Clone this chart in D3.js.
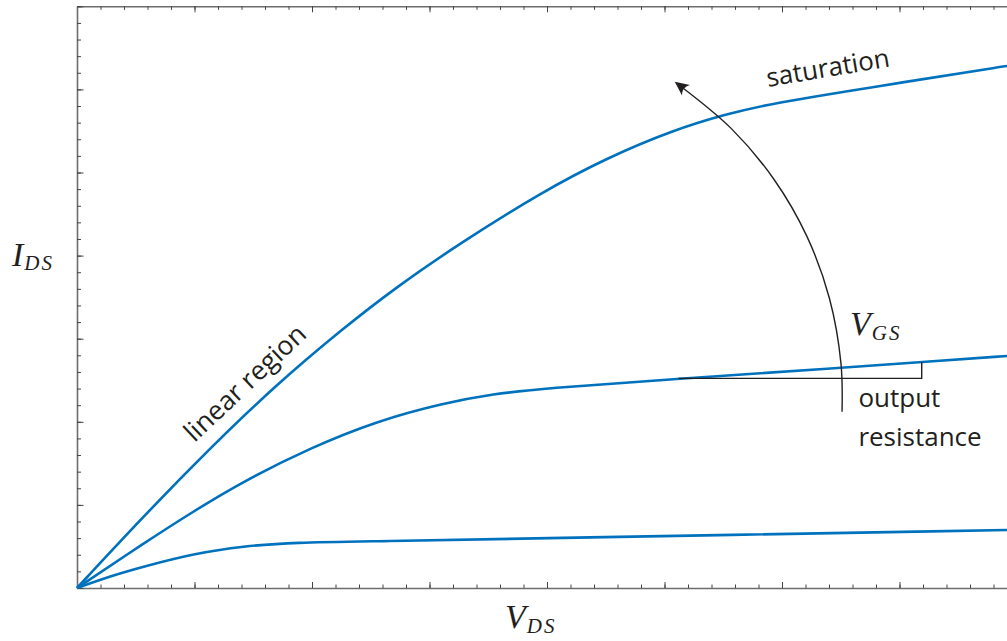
<!DOCTYPE html>
<html>
<head>
<meta charset="utf-8">
<script src="https://cdn.jsdelivr.net/npm/d3@7"></script>
<style>
  html, body { margin: 0; padding: 0; background: #fff; overflow: hidden; }
  svg { display: block; }
  .lbl { font-family: "Open Sans", sans-serif; fill: #231f20; }
  .math { font-family: "Liberation Serif", serif; font-style: italic; fill: #231f20; }
</style>
</head>
<body>
<svg id="chart" width="1007" height="641"></svg>
<script>
// ---------- data (V_DS and I_DS in major-tick units) ----------
const vdsHigh = [0, 0.568, 1.134, 1.702, 2.270, 2.695, 3.262, 3.957, 4.508, 5.075, 5.529, 5.926, 6.777, 7.912, 8.0];
const idsHigh = [0, 0.866, 1.685, 2.455, 3.129, 3.598, 4.152, 4.765, 5.174, 5.511, 5.704, 5.836, 6.029, 6.282, 6.298];

const vdsMid = [0, 0.568, 0.993, 1.419, 1.986, 2.553, 3.121, 3.546, 3.957, 5.132, 6.494, 7.189, 7.912, 8.0];
const idsMid = [0, 0.538, 0.925, 1.286, 1.687, 2.010, 2.226, 2.335, 2.401, 2.521, 2.647, 2.720, 2.792, 2.800];

const vdsLow = [0, 0.283, 0.568, 0.993, 1.419, 1.844, 2.553, 3.940, 7.912, 8.0];
const idsLow = [0, 0.144, 0.259, 0.415, 0.505, 0.548, 0.562, 0.598, 0.698, 0.700];

// V_GS arrow (annotation path)
const arrowV = [6.511, 6.502, 6.404, 6.212, 5.931, 5.569, 5.101];
const arrowI = [2.120, 2.700, 3.484, 4.231, 4.919, 5.528, 6.077];

// output resistance bracket
const bracketV = [5.119, 7.189, 7.189];
const bracketI = [2.523, 2.523, 2.720];

const xMajorTicks = d3.range(0, 9);
const xMinorTicks = d3.range(0, 41).map(i => i * 0.2);
const yMajorTicks = d3.range(0, 8);
const yMinorTicks = d3.range(0, 36).map(i => i * 0.2);

// ---------- layout ----------
const svg = d3.select("#chart");
const plotLeft = 77, plotBottom = 588, plotTop = 6.3, unitX = 117.5;
const x = d3.scaleLinear().domain([0, 8]).range([plotLeft, plotLeft + 8 * unitX]);
const y = d3.scaleLinear().domain([0, 7]).range([plotBottom, plotTop]);

const blue = "#0072bd";
const axisColor = "#6d6d6d";
const ink = "#231f20";

// axes
function styleAxis(g) {
  g.selectAll(".domain").attr("stroke", axisColor).attr("stroke-width", 1.6);
  g.selectAll(".tick line").attr("stroke", "#444").attr("stroke-width", 1);
  g.selectAll(".tick text").remove();
}
svg.append("g").attr("transform", `translate(0,${plotBottom})`)
  .call(d3.axisBottom(x).tickValues(xMinorTicks).tickSizeInner(-3.5).tickSizeOuter(0)).call(styleAxis);
svg.append("g").attr("transform", `translate(0,${plotBottom})`)
  .call(d3.axisBottom(x).tickValues(xMajorTicks).tickSizeInner(-6).tickSizeOuter(0))
  .call(g => g.select(".domain").remove()).call(styleAxis);
svg.append("g").attr("transform", `translate(0,${plotTop})`)
  .call(d3.axisTop(x).tickValues(xMinorTicks).tickSizeInner(-3.5).tickSizeOuter(0)).call(styleAxis);
svg.append("g").attr("transform", `translate(0,${plotTop})`)
  .call(d3.axisTop(x).tickValues(xMajorTicks).tickSizeInner(-6).tickSizeOuter(0))
  .call(g => g.select(".domain").remove()).call(styleAxis);
svg.append("g").attr("transform", `translate(${plotLeft},0)`)
  .call(d3.axisLeft(y).tickValues(yMinorTicks).tickSizeInner(-4).tickSizeOuter(0)).call(styleAxis);
svg.append("g").attr("transform", `translate(${plotLeft},0)`)
  .call(d3.axisLeft(y).tickValues(yMajorTicks).tickSizeInner(-6.5).tickSizeOuter(0))
  .call(g => g.select(".domain").remove()).call(styleAxis);

// curves
const line = d3.line().x(d => x(d[0])).y(d => y(d[1])).curve(d3.curveBasis);
const series = [
  d3.zip(vdsHigh, idsHigh),
  d3.zip(vdsMid, idsMid),
  d3.zip(vdsLow, idsLow)
];
svg.append("g").selectAll("path").data(series).join("path")
  .attr("d", line).attr("fill", "none").attr("stroke", blue).attr("stroke-width", 2.6)
  .attr("stroke-linejoin", "round");

// arrow marker
const defs = svg.append("defs");
defs.append("marker").attr("id", "ah")
  .attr("viewBox", "-14 -8 17 16").attr("refX", 0).attr("refY", 0)
  .attr("markerWidth", 17).attr("markerHeight", 16).attr("markerUnits", "userSpaceOnUse")
  .attr("orient", "auto")
  .append("path").attr("d", "M2,0 L-12,-6.5 Q-7,0 -12,6.5 Z").attr("fill", ink);

const arrowLine = d3.line().x(d => x(d[0])).y(d => y(d[1])).curve(d3.curveCatmullRom.alpha(0.5));
svg.append("path").datum(d3.zip(arrowV, arrowI))
  .attr("d", arrowLine).attr("fill", "none").attr("stroke", ink).attr("stroke-width", 1.4)
  .attr("marker-end", "url(#ah)");

// bracket
const straight = d3.line().x(d => x(d[0])).y(d => y(d[1]));
svg.append("path").datum(d3.zip(bracketV, bracketI))
  .attr("d", straight).attr("fill", "none").attr("stroke", ink).attr("stroke-width", 1.4);

// text labels
svg.append("text").attr("class", "lbl").attr("font-size", 26.5)
  .attr("transform", `translate(${x(1.0)},${y(1.745)}) rotate(-43.3)`)
  .text("linear region");
svg.append("text").attr("class", "lbl").attr("font-size", 26)
  .attr("transform", `translate(${x(5.88)},${y(6.03)}) rotate(-9.5)`)
  .text("saturation");
svg.append("text").attr("class", "lbl").attr("font-size", 26)
  .attr("x", x(6.65)).attr("y", y(2.177)).text("output");
svg.append("text").attr("class", "lbl").attr("font-size", 26)
  .attr("x", x(6.65)).attr("y", y(1.71)).text("resistance");

// math labels
function mathLabel(px, py, main, sub, dy) {
  const t = svg.append("text").attr("class", "math").attr("x", px).attr("y", py);
  t.append("tspan").attr("font-size", 34).text(main);
  t.append("tspan").attr("font-size", 21).attr("letter-spacing", 2).attr("dx", 1).attr("dy", dy).text(sub);
}
mathLabel(12, 266, "I", "DS", 4);
mathLabel(505, 628, "V", "DS", 5);
mathLabel(850, 335, "V", "GS", 5);
</script>
</body>
</html>
